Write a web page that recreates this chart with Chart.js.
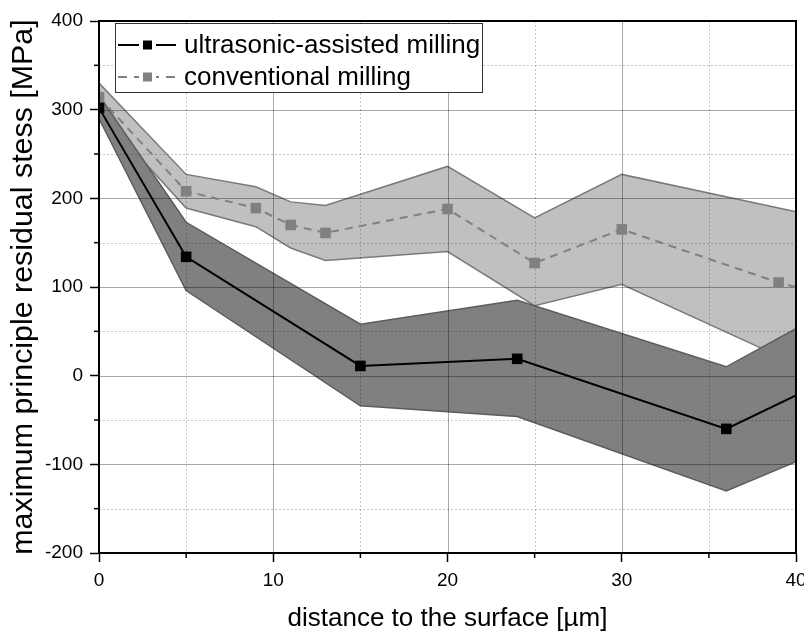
<!DOCTYPE html>
<html>
<head>
<meta charset="utf-8">
<script src="https://cdn.jsdelivr.net/npm/chart.js@4.4.0/dist/chart.umd.min.js"></script>
<style>
  html, body { margin: 0; padding: 0; background: #fff; }
  #wrap { width: 804px; height: 632px; }
</style>
</head>
<body>
<div id="wrap"><canvas id="chart"></canvas></div>
<script>
// ultrasonic-assisted milling (mean and scatter band)
const ultraX = [0, 5, 15, 24, 36, 45];
const ultraY = [302, 134, 11, 19, -60, 25];
const ultraUpper = [316, 173, 58, 85, 10, 107];
const ultraLower = [290, 96, -34, -46, -130, -56];

// conventional milling (mean and scatter band)
const convX = [0, 5, 9, 11, 13, 20, 25, 30, 39, 45];
const convY = [314, 208, 189, 170, 161, 188, 127, 165, 105, 75];
const convUpper = [330, 227, 213, 196, 192, 236, 178, 227, 189, 164];
const convLower = [297, 189, 168, 144, 130, 140, 79, 103, 22, -33];

const xMajor = [10, 20, 30];
const xMinor = [5, 15, 25, 35];
const yMajor = [-100, 0, 100, 200, 300];
const yMinor = [-150, -50, 50, 150, 250, 350];

const FONT = "'Liberation Sans', Arial, sans-serif";

const pts = (xs, ys) => xs.map((x, i) => ({ x, y: ys[i] }));

// grid drawn over the bands but under the mean lines
const gridPlugin = {
  id: 'bandGrid',
  afterDatasetDraw(chart, args) {
    if (args.index !== 2) {
      return;
    }
    const { ctx, chartArea: a, scales } = chart;
    ctx.save();
    ctx.lineWidth = 1;
    ctx.strokeStyle = 'rgba(0,0,0,0.22)';
    ctx.setLineDash([2, 2]);
    xMinor.forEach((v) => {
      const px = Math.round(scales.x.getPixelForValue(v)) + 0.5;
      ctx.beginPath(); ctx.moveTo(px, a.top); ctx.lineTo(px, a.bottom); ctx.stroke();
    });
    yMinor.forEach((v) => {
      const py = Math.round(scales.y.getPixelForValue(v)) + 0.5;
      ctx.beginPath(); ctx.moveTo(a.left, py); ctx.lineTo(a.right, py); ctx.stroke();
    });
    ctx.setLineDash([]);
    ctx.strokeStyle = 'rgba(0,0,0,0.34)';
    xMajor.forEach((v) => {
      const px = Math.round(scales.x.getPixelForValue(v)) + 0.5;
      ctx.beginPath(); ctx.moveTo(px, a.top); ctx.lineTo(px, a.bottom); ctx.stroke();
    });
    yMajor.forEach((v) => {
      const py = Math.round(scales.y.getPixelForValue(v)) + 0.5;
      ctx.beginPath(); ctx.moveTo(a.left, py); ctx.lineTo(a.right, py); ctx.stroke();
    });
    ctx.restore();
  },
};

// minor ticks, closing frame and boxed legend
const framePlugin = {
  id: 'frameLegend',
  afterDraw(chart) {
    const { ctx, chartArea: a, scales } = chart;
    ctx.save();
    ctx.strokeStyle = '#000';
    ctx.lineWidth = 1.5;
    xMinor.forEach((v) => {
      const px = scales.x.getPixelForValue(v);
      ctx.beginPath(); ctx.moveTo(px, a.bottom); ctx.lineTo(px, a.bottom + 5); ctx.stroke();
    });
    yMinor.forEach((v) => {
      const py = scales.y.getPixelForValue(v);
      ctx.beginPath(); ctx.moveTo(a.left, py); ctx.lineTo(a.left - 5, py); ctx.stroke();
    });
    ctx.lineWidth = 2;
    ctx.strokeRect(a.left, a.top, a.right - a.left, a.bottom - a.top);

    // legend
    ctx.fillStyle = '#fff';
    ctx.fillRect(115.5, 23.5, 367, 69);
    ctx.strokeStyle = '#333';
    ctx.lineWidth = 1;
    ctx.strokeRect(115.5, 23.5, 367, 69);
    const rows = [45, 77];
    chart.data.datasets.slice(0, 2).forEach((ds, i) => {
      const y = rows[i];
      ctx.strokeStyle = ds.borderColor;
      ctx.lineWidth = 2;
      ctx.setLineDash(ds.borderDash ? [9, 7] : []);
      ctx.beginPath(); ctx.moveTo(118, y); ctx.lineTo(176, y); ctx.stroke();
      ctx.setLineDash([]);
      ctx.fillStyle = '#fff';
      ctx.fillRect(139, y - 6, 17, 12);
      ctx.fillStyle = ds.backgroundColor;
      ctx.fillRect(143, y - 4.5, 9, 9);
      ctx.fillStyle = '#000';
      ctx.font = `26px ${FONT}`;
      ctx.textBaseline = 'middle';
      ctx.fillText(ds.label, 184, y + 1);
    });
    ctx.restore();
  },
};

const tickFont = { family: FONT, size: 19 };

new Chart(document.getElementById('chart'), {
  type: 'line',
  data: {
    datasets: [
      {
        label: 'ultrasonic-assisted milling',
        data: pts(ultraX, ultraY),
        borderColor: '#000',
        backgroundColor: '#000',
        borderWidth: 2,
        pointStyle: 'rect',
        pointRadius: 7.5,
        pointBorderWidth: 0,
        fill: false,
        order: 0,
      },
      {
        label: 'conventional milling',
        data: pts(convX, convY),
        borderColor: '#808080',
        backgroundColor: '#808080',
        borderWidth: 2,
        borderDash: [8, 6],
        pointStyle: 'rect',
        pointRadius: 7.5,
        pointBorderWidth: 0,
        fill: false,
        order: 1,
      },
      {
        label: 'ultra upper',
        data: pts(ultraX, ultraUpper),
        borderColor: '#5c5c5c',
        borderWidth: 1.5,
        pointRadius: 0,
        fill: false,
        order: 2,
      },
      {
        label: 'ultra lower',
        data: pts(ultraX, ultraLower),
        borderColor: '#5c5c5c',
        backgroundColor: '#808080',
        borderWidth: 1.5,
        pointRadius: 0,
        fill: '-1',
        order: 3,
      },
      {
        label: 'conv upper',
        data: pts(convX, convUpper),
        borderColor: '#7a7a7a',
        borderWidth: 1.5,
        pointRadius: 0,
        fill: false,
        order: 4,
      },
      {
        label: 'conv lower',
        data: pts(convX, convLower),
        borderColor: '#7a7a7a',
        backgroundColor: '#c0c0c0',
        borderWidth: 1.5,
        pointRadius: 0,
        fill: '-1',
        order: 5,
      },
    ],
  },
  options: {
    responsive: true,
    maintainAspectRatio: false,
    animation: false,
    events: [],
    layout: { padding: { top: 21, right: 8, left: 0, bottom: 0 } },
    plugins: {
      legend: { display: false },
      tooltip: { enabled: false },
    },
    scales: {
      x: {
        type: 'linear',
        min: 0,
        max: 40,
        ticks: { stepSize: 10, font: tickFont, color: '#000', padding: 7, maxRotation: 0 },
        grid: { drawOnChartArea: false, tickLength: 9, tickColor: '#000', tickWidth: 1.5 },
        border: { color: '#000', width: 2 },
        title: {
          display: true,
          text: 'distance to the surface [µm]',
          color: '#000',
          font: { family: FONT, size: 26, lineHeight: 1 },
          padding: { top: 0, bottom: 0 },
        },
        afterFit(scale) {
          scale.height = 79;
          scale.paddingLeft = 0;
          scale.paddingRight = 0;
        },
      },
      y: {
        min: -200,
        max: 400,
        ticks: { stepSize: 100, font: tickFont, color: '#000', padding: 7 },
        grid: { drawOnChartArea: false, tickLength: 9, tickColor: '#000', tickWidth: 1.5 },
        border: { color: '#000', width: 2 },
        title: {
          display: true,
          text: 'maximum principle residual stess [MPa]',
          color: '#000',
          font: { family: FONT, size: 30.4, lineHeight: 1.2 },
          padding: { top: 5, bottom: 0 },
        },
        afterFit(scale) {
          scale.width = 99;
          scale.paddingTop = 0;
          scale.paddingBottom = 0;
        },
      },
    },
  },
  plugins: [gridPlugin, framePlugin],
});
</script>
</body>
</html>
